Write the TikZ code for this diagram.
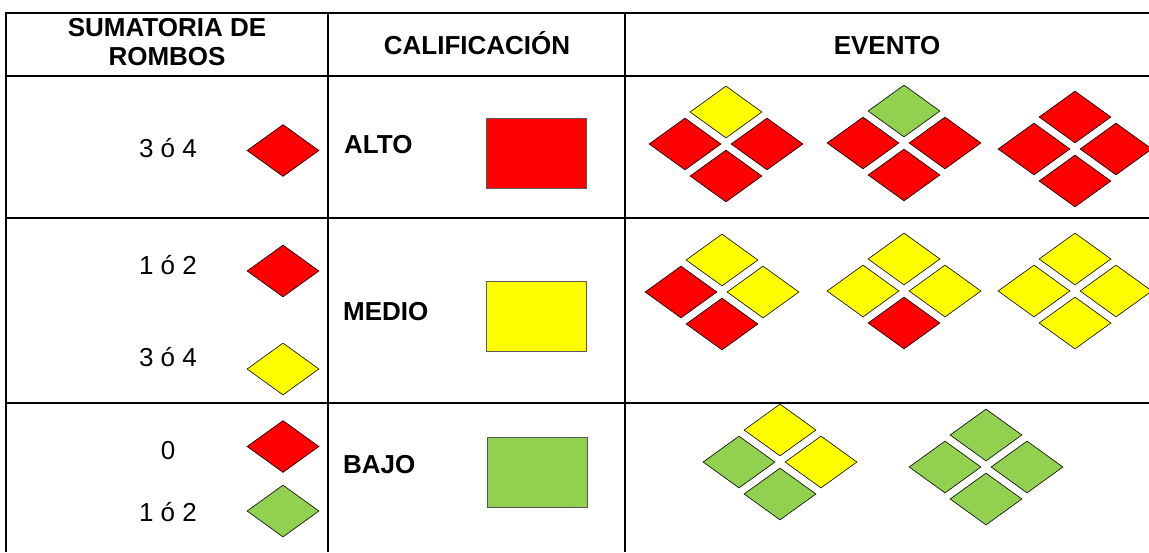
\documentclass[tikz,border=0pt]{standalone}
\usepackage{fontspec}
\setmainfont{Liberation Sans}
\usetikzlibrary{shapes.geometric}
\definecolor{rojo}{HTML}{FF0000}
\definecolor{amarillo}{HTML}{FFFF00}
\definecolor{verde}{HTML}{92D050}
\begin{document}
\begin{tikzpicture}[x=1pt,y=-1pt,
  rombo/.style={diamond, draw=black, line width=0.6pt, inner sep=0pt, minimum width=72pt, minimum height=52pt},
  caja/.style={draw=black!65, line width=0.8pt, inner sep=0pt, minimum width=100pt, minimum height=70pt},
  rejilla/.style={line width=2.2pt},
  titulo/.style={font=\fontsize{26}{29}\selectfont\bfseries, align=center},
  cifra/.style={font=\fontsize{26}{29}\selectfont, anchor=base},
  nivel/.style={font=\fontsize{26}{29}\selectfont\bfseries, anchor=base west, inner sep=0pt}]
\useasboundingbox (0,0) rectangle (1149,552);

% Table rules
\draw[rejilla] (6,552) -- (6,13) -- (1149,13);
\draw[rejilla] (6,76) -- (1149,76);
\draw[rejilla] (6,218) -- (1149,218);
\draw[rejilla] (6,403) -- (1149,403);
\draw[rejilla] (328,13) -- (328,552);
\draw[rejilla] (625,13) -- (625,552);

% Headers
\node[titulo] (hsuma) at (167,42.5) {SUMATORIA DE\\ROMBOS};
\node[titulo, anchor=base] (hcalif) at (477,54) {CALIFICACIÓN};
\node[titulo, anchor=base] (hevento) at (887,54) {EVENTO};

% Sumatoria de rombos
\node[cifra] (s1) at (168,157) {3 ó 4};
\node[rombo, fill=rojo] (r1) at (283,150.5) {};
\node[cifra] (s2a) at (168,274) {1 ó 2};
\node[rombo, fill=rojo] (r2a) at (283,271) {};
\node[cifra] (s2b) at (168,366) {3 ó 4};
\node[rombo, fill=amarillo] (r2b) at (283,369) {};
\node[cifra] (s3a) at (168,459) {0};
\node[rombo, fill=rojo] (r3a) at (283,446.5) {};
\node[cifra] (s3b) at (168,521) {1 ó 2};
\node[rombo, fill=verde] (r3b) at (283,511) {};

% Calificacion
\node[nivel] (alto) at (344,153) {ALTO};
\node[caja, fill=rojo] (calto) at (536,153) {};
\node[nivel] (medio) at (343,320) {MEDIO};
\node[caja, fill=amarillo] (cmedio) at (536.5,316) {};
\node[nivel] (bajo) at (343,473) {BAJO};
\node[caja, fill=verde] (cbajo) at (537,472) {};

% Eventos: top / left / right / bottom
\foreach \ev/\cx/\cy/\ca/\cb/\cc/\cd in {
    alto1/726/144/amarillo/rojo/rojo/rojo,
    alto2/904/143/verde/rojo/rojo/rojo,
    alto3/1075/149/rojo/rojo/rojo/rojo,
    medio1/722/292/amarillo/rojo/amarillo/rojo,
    medio2/904/291/amarillo/amarillo/amarillo/rojo,
    medio3/1075/291/amarillo/amarillo/amarillo/amarillo,
    bajo1/780/462/amarillo/verde/amarillo/verde,
    bajo2/986/467/verde/verde/verde/verde}{
  \node[rombo, fill=\ca] (\ev-n) at (\cx,\cy-32) {};
  \node[rombo, fill=\cb] (\ev-w) at (\cx-41,\cy) {};
  \node[rombo, fill=\cc] (\ev-e) at (\cx+41,\cy) {};
  \node[rombo, fill=\cd] (\ev-s) at (\cx,\cy+32) {};
}
\end{tikzpicture}
\end{document}
